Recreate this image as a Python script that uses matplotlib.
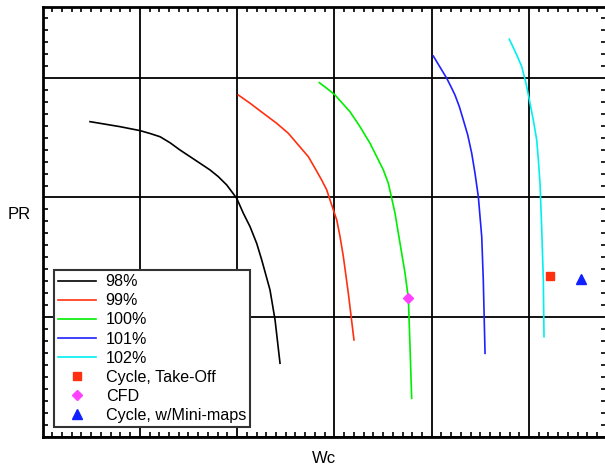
import matplotlib
matplotlib.use("Agg")
import matplotlib.pyplot as plt
from matplotlib.ticker import MultipleLocator, NullFormatter

plt.rcParams['font.family'] = ['Liberation Sans', 'DejaVu Sans']

# Speed lines of the compressor map (corrected flow vs pressure ratio)
wc_98 = [0.488, 0.797, 1.002, 1.105, 1.208, 1.310, 1.413, 1.567, 1.722, 1.807, 1.893, 1.996,
         2.064, 2.133, 2.201, 2.253, 2.338, 2.390, 2.441]
pr_98 = [2.634, 2.592, 2.559, 2.535, 2.508, 2.458, 2.397, 2.314, 2.230, 2.174, 2.105, 1.993,
         1.868, 1.756, 1.617, 1.478, 1.227, 0.976, 0.614]

wc_99 = [2.012, 2.133, 2.269, 2.407, 2.526, 2.629, 2.732, 2.801, 2.869, 2.921, 2.955, 3.024,
         3.058, 3.092, 3.143, 3.201]
pr_99 = [2.857, 2.788, 2.704, 2.620, 2.537, 2.439, 2.341, 2.244, 2.146, 2.063, 1.979, 1.812,
         1.672, 1.505, 1.199, 0.809]

wc_100 = [2.845, 2.921, 3.006, 3.160, 3.263, 3.366, 3.435, 3.503, 3.554, 3.589, 3.623, 3.657,
          3.726, 3.760, 3.777, 3.794]
pr_100 = [2.960, 2.913, 2.857, 2.717, 2.592, 2.453, 2.341, 2.230, 2.119, 1.993, 1.868, 1.701,
          1.366, 1.157, 0.753, 0.321]

wc_101 = [4.016, 4.154, 4.206, 4.239, 4.284, 4.325, 4.370, 4.411, 4.445, 4.479, 4.514, 4.530, 4.548]
pr_101 = [3.183, 2.997, 2.913, 2.857, 2.759, 2.648, 2.523, 2.370, 2.202, 2.007, 1.672, 1.310, 0.697]

wc_102 = [4.798, 4.874, 4.925, 4.969, 5.010, 5.044, 5.079, 5.096, 5.113, 5.131, 5.147, 5.154]
pr_102 = [3.323, 3.191, 3.094, 2.955, 2.788, 2.648, 2.481, 2.314, 2.119, 1.728, 1.310, 0.836]

speed_labels = ['98%', '99%', '100%', '101%', '102%']

# Operating points
takeoff_wc, takeoff_pr = [5.216], [1.346]
cfd_wc, cfd_pr = [3.760], [1.160]
minimap_wc, minimap_pr = [5.534], [1.319]

fig = plt.figure(figsize=(6.05, 4.7), dpi=100)
ax = fig.add_axes([42.5 / 605, 33.3 / 470, 563 / 605, 430 / 470])

colors = ['#000000', '#ff3010', '#00ee00', '#2020ff', '#00f0f0']
series = [(wc_98, pr_98), (wc_99, pr_99), (wc_100, pr_100), (wc_101, pr_101), (wc_102, pr_102)]
for (x, y), c, lab in zip(series, colors, speed_labels):
    ax.plot(x, y, color=c, lw=1.2, label=lab, solid_joinstyle='round')

ax.plot(takeoff_wc, takeoff_pr, 's', color='#ff3010', ms=6, ls='none', label='Cycle, Take-Off')
ax.plot(cfd_wc, cfd_pr, 'D', color='#ff40ff', ms=5.5, ls='none', label='CFD')
ax.plot(minimap_wc, minimap_pr, '^', color='#1020ff', ms=7, ls='none', label='Cycle, w/Mini-maps')

ax.set_xlim(0, 5.786)
ax.set_ylim(0, 3.595)

ax.xaxis.set_major_locator(MultipleLocator(1))
ax.xaxis.set_minor_locator(MultipleLocator(0.1))
ax.yaxis.set_major_locator(MultipleLocator(1))
ax.yaxis.set_minor_locator(MultipleLocator(0.1))
ax.xaxis.set_major_formatter(NullFormatter())
ax.yaxis.set_major_formatter(NullFormatter())
ax.tick_params(which='both', direction='in', top=True, right=True, color='black')
ax.tick_params(which='major', length=0)
ax.tick_params(which='minor', length=3.5, width=1.2)

ax.grid(True, which='major', color='black', lw=1.3)
for s in ax.spines.values():
    s.set_linewidth(2)
    s.set_color('black')

ax.set_xlabel('Wc', fontsize=12, labelpad=7)
ax.set_ylabel('PR', fontsize=12, rotation=0)
ax.yaxis.label.set_ha('center')
ax.yaxis.label.set_va('center')
ax.yaxis.set_label_coords(-0.042, 0.516)

leg = ax.legend(loc='lower left', bbox_to_anchor=(0.0204, 0.023), borderaxespad=0,
                fontsize=11.6, frameon=True, fancybox=False, framealpha=1,
                edgecolor='#333333', handlelength=2.35, labelspacing=0.25,
                handletextpad=0.6, borderpad=0.26)
leg.get_frame().set_linewidth(1.5)

fig.savefig('out.png', dpi=100)
